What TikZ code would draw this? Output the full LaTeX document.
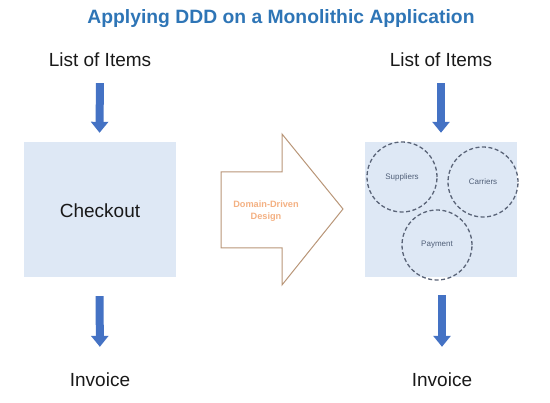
\documentclass[tikz,border=0pt]{standalone}
\usepackage{fontspec}
\setmainfont{Liberation Sans}
\usetikzlibrary{arrows.meta}
\definecolor{titleblue}{RGB}{46,117,182}
\definecolor{boxfill}{RGB}{222,232,245}
\definecolor{arrowblue}{RGB}{68,114,196}
\definecolor{circedge}{RGB}{90,100,120}
\definecolor{circtext}{RGB}{80,95,120}
\definecolor{dddorange}{RGB}{244,177,131}
\definecolor{bigedge}{RGB}{185,150,120}
\tikzset{
  lbl/.style={inner sep=0pt, font=\fontsize{19}{22}\selectfont, text=black!90},
  panel/.style={fill=boxfill, draw=none, minimum width=152pt, minimum height=135pt, inner sep=0pt},
  flow/.style={draw=arrowblue, line width=8pt, -{Triangle[width=17pt,length=11pt]}},
  ctx/.style={circle, draw=circedge, dashed, dash pattern=on 4pt off 2.5pt, line width=1.3pt, minimum size=70pt, inner sep=0pt, font=\fontsize{8}{9}\selectfont, text=circtext},
}
\begin{document}
\begin{tikzpicture}[x=1pt,y=-1pt]
\useasboundingbox (0,0) rectangle (550,403);
\node[font=\bfseries\fontsize{19.3}{22}\selectfont, text=titleblue] (title) at (281,19) {Applying DDD on a Monolithic Application};
% left column
\node[lbl] (list1) at (100,60) {List of Items};
\node[panel] (box1) at (99.5,209.5) {};
\node[lbl] (chk) at (100,211) {Checkout};
\node[lbl] (inv1) at (100,380) {Invoice};
\draw[flow, shorten <=16pt, shorten >=9pt] (list1.south) -- (box1.north);
\draw[flow, shorten <=19pt, shorten >=26pt] (box1.south) -- (inv1.north);
% big arrow
\draw[bigedge, line width=1pt, fill=white] (221,172) -- (282,172) -- (282,134) -- (343,209) -- (282,285) -- (282,248) -- (221,248) -- cycle;
\node[font=\bfseries\fontsize{9.2}{12}\selectfont, text=dddorange, align=center] (ddd) at (266,211) {Domain-Driven\\Design};
% right column
\node[lbl] (list2) at (441,60) {List of Items};
\node[panel] (box2) at (441,209.5) {};
\node[ctx] (sup) at (402,177) {Suppliers};
\node[ctx] (car) at (483,182) {Carriers};
\node[ctx] (pay) at (437,245) {Payment};
\node[lbl] (inv2) at (442,380) {Invoice};
\draw[flow, shorten <=16pt, shorten >=9pt] (list2.south) -- (box2.north);
\draw[flow, shorten <=18pt, shorten >=26pt] ([xshift=1pt]box2.south) -- (inv2.north);
\end{tikzpicture}
\end{document}
